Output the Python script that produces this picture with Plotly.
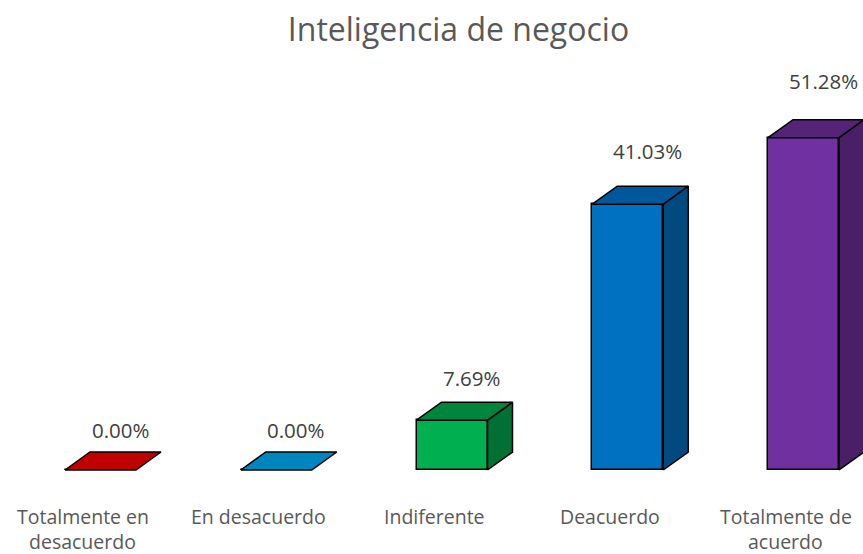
import plotly.graph_objects as go

categories = ["Totalmente en<br>desacuerdo", "En desacuerdo", "Indiferente", "Deacuerdo", "Totalmente de<br>acuerdo"]
values = [0.00, 0.00, 7.69, 41.03, 51.28]
labels = ["0.00%", "0.00%", "7.69%", "41.03%", "51.28%"]
front_colors = ["#C00000", "#0086BE", "#00B050", "#0070C0", "#7030A0"]
top_colors = ["#C00000", "#0086BE", "#00853D", "#00589A", "#552478"]
side_colors = ["#A00000", "#006F9E", "#007033", "#004A7F", "#4A1F68"]

W, H = 863, 554
px_per_unit_x = 175.75
px_per_unit_y = 6.48
x0_px = 100.5
base_px = 470
xr = [-x0_px / px_per_unit_x, (W - x0_px) / px_per_unit_x]
yr = [-(H - base_px) / px_per_unit_y, base_px / px_per_unit_y]

bw = 71 / px_per_unit_x
dx = 25 / px_per_unit_x
dy = 18 / px_per_unit_y

xs = list(range(len(values)))
fig = go.Figure()
fig.add_trace(go.Bar(x=xs, y=values, width=bw, base=0,
                     marker=dict(color=front_colors, line=dict(color="black", width=1.5)),
                     hoverinfo="skip", showlegend=False))
for i, v in enumerate(values):
    l, r = i - bw / 2, i + bw / 2
    if v > 0:
        fig.add_trace(go.Scatter(x=[r, r, r + dx, r + dx, r], y=[0, v, v + dy, dy, 0],
                                 fill="toself", fillcolor=side_colors[i], mode="lines",
                                 line=dict(color="black", width=1.5), hoverinfo="skip", showlegend=False))
    fig.add_trace(go.Scatter(x=[l, r, r + dx, l + dx, l], y=[v, v, v + dy, v + dy, v],
                             fill="toself", fillcolor=top_colors[i], mode="lines",
                             line=dict(color="black", width=1.5), hoverinfo="skip", showlegend=False))
    fig.add_annotation(x=i + 20 / px_per_unit_x, y=v * 1.05 + 6.2, text=labels[i], showarrow=False,
                       font=dict(size=20.5, color="#404040", family="Open Sans"), xanchor="center", yanchor="middle")
    for k, line in enumerate(categories[i].split("<br>")):
        fig.add_annotation(x=i - 18 / px_per_unit_x, y=-(516 + 25 * k - base_px) / px_per_unit_y, text=line,
                           showarrow=False, xanchor="center", yanchor="middle", borderpad=0,
                           font=dict(size=19.5, color="#595959", family="Open Sans"))

fig.update_layout(
    width=W, height=H,
    margin=dict(l=0, r=0, t=0, b=0),
    paper_bgcolor="white", plot_bgcolor="white",
    title=dict(text="Inteligencia de negocio", x=458.5 / W, xanchor="center", y=1 - 30 / H, yanchor="middle",
               font=dict(size=32, color="#595959", family="Open Sans")),
    xaxis=dict(range=xr, visible=False, fixedrange=True),
    yaxis=dict(range=yr, visible=False, fixedrange=True),
    bargap=0,
)
fig.write_html("out.html", config={"displayModeBar": False}, post_script="document.body.style.margin='0';")
